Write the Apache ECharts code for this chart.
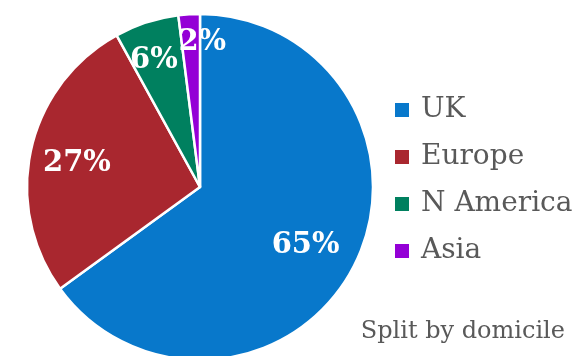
<!DOCTYPE html>
<html>
<head>
<meta charset="utf-8">
<script src="https://cdn.jsdelivr.net/npm/echarts@6/dist/echarts.min.js"></script>
<style>
  html, body { margin: 0; padding: 0; background: #fff; }
  #chart { width: 576px; height: 356px; }
</style>
</head>
<body>
<div id="chart"></div>
<script>
// Regional split by domicile (percent)
const regions = ['UK', 'Europe', 'N America', 'Asia'];
const shares = [65, 27, 6, 2];
const colors = ['#0878CB', '#A9272F', '#00805F', '#9400D6'];

const serif = '"DejaVu Serif", "Liberation Serif", serif';
const center = [200, 187];
const outerR = 173;

// Nudges for the percentage labels
const labelNudge = {
  'UK': [-4, 3],
  'Europe': [-3, 3],
  'N America': [-8, -10],
  'Asia': [10, -22]
};

const chart = echarts.init(document.getElementById('chart'), null, { renderer: 'canvas' });

const sliceData = regions.map((name, i) => ({
  name,
  value: shares[i],
  itemStyle: { color: colors[i] }
}));

// Label-only ring: a transparent, larger pie whose 'inside' labels sit
// further out than the midpoint of the visible pie.
const labelData = regions.map((name, i) => ({
  name,
  value: shares[i],
  label: { offset: labelNudge[name] || [0, 0] }
}));

chart.setOption({
  animation: false,
  backgroundColor: '#ffffff',
  legend: {
    orient: 'vertical',
    left: 388,
    top: 91,
    itemWidth: 16,
    itemHeight: 16,
    itemGap: 19,
    icon: 'rect',
    data: regions,
    textStyle: { fontFamily: serif, fontSize: 28, color: '#595959', padding: [0, 0, 0, 6] },
    selectedMode: false
  },
  title: {
    text: 'Split by domicile',
    right: 6,
    top: 315,
    textStyle: { fontFamily: serif, fontSize: 24, fontWeight: 'normal', color: '#595959' }
  },
  series: [
    {
      type: 'pie',
      center,
      radius: [0, outerR],
      startAngle: 90,
      clockwise: true,
      silent: true,
      label: { show: false },
      labelLine: { show: false },
      itemStyle: { borderColor: '#ffffff', borderWidth: 2.5 },
      data: sliceData
    },
    {
      type: 'pie',
      center,
      radius: [0, 240],
      startAngle: 90,
      clockwise: true,
      silent: true,
      legendHoverLink: false,
      avoidLabelOverlap: false,
      labelLayout: { hideOverlap: false },
      itemStyle: { color: 'rgba(0,0,0,0)' },
      label: {
        show: true,
        position: 'inside',
        formatter: '{c}%',
        fontFamily: serif,
        fontWeight: 'bold',
        fontSize: 29,
        color: '#ffffff'
      },
      labelLine: { show: false },
      data: labelData
    }
  ]
});
</script>
</body>
</html>
